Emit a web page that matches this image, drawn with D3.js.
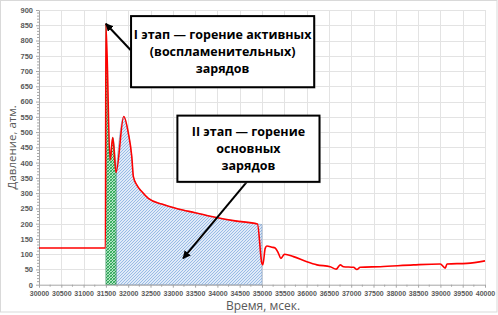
<!DOCTYPE html>
<html><head><meta charset="utf-8">
<script src="https://cdn.jsdelivr.net/npm/d3@7"></script>
<style>
html,body{margin:0;padding:0;background:#fff;}
svg{display:block;}
</style>
</head><body>
<svg id="chart" width="498" height="315"></svg>
<script>
// ---- data ----
const times = [30000,31490,31500,31593,31654,31728,31900,32004,32080,32116,32192,32304,32452,32753,33125,33500,33949,34398,34898,34997,35019,35071,35109,35221,35295,35369,35423,35468,35508,35706,36006,36231,36529,36664,36754,36828,37052,37128,37202,37651,38398,38997,39109,39148,39596,40000];
const pressure = [120,120,855,408,482,368,551,496,420,354,327,305,283,264,248,236,221,209,199,70,65,119,127,123,120,103,86,94,100,92,75,65,59,51,65,59,57,50,57,59,65,68,54,68,70,78];
const stage1Range = [31500, 31728];
const stage2Range = [31728, 35000];
const stage2End = 197;
const xTickValues = d3.range(30000, 40001, 500);
const yTickValues = d3.range(0, 901, 50);
const xTitle = "Время, мсек.";
const yTitle = "Давление, атм.";
const note1Lines = ["I этап — горение активных", "(воспламенительных)", "зарядов"];
const note2Lines = ["II этап — горение", "основных", "зарядов"];
// annotation anchors in data units
const note1Box = {x0: 32064, x1: 36170, y0: 880, y1: 647};
const note2Box = {x0: 33103, x1: 36289, y0: 554, y1: 337};
const arrow1 = {from: [32053, 769], to: [31500, 855]};
const arrow2 = {from: [34660, 337], to: [33231, 86]};

// ---- layout ----
const svg = d3.select("#chart");
const m = {left: 39, right: 485, top: 10, bottom: 284.7};
const x = d3.scaleLinear().domain([30000, 40000]).range([m.left, m.right]);
const y = d3.scaleLinear().domain([0, 900]).range([m.bottom, m.top]);

const defs = svg.append("defs");
const pg = defs.append("pattern").attr("id","hatchGreen").attr("patternUnits","userSpaceOnUse")
  .attr("width",3).attr("height",3);
pg.append("rect").attr("width",3).attr("height",3).attr("fill","#b5e8c6");
pg.append("path").attr("d","M-1,1 l2,-2 M0,3 l3,-3 M2,4 l2,-2").attr("stroke","#1f9e4b").attr("stroke-width",0.9);
pg.append("path").attr("d","M-1,2 l2,2 M0,0 l3,3 M2,-1 l2,2").attr("stroke","#1f9e4b").attr("stroke-width",0.6);
const pb = defs.append("pattern").attr("id","hatchBlue").attr("patternUnits","userSpaceOnUse")
  .attr("width",3).attr("height",3);
pb.append("rect").attr("width",3).attr("height",3).attr("fill","#dfeaf8");
pb.append("path").attr("d","M-1,1 l2,-2 M0,3 l3,-3 M2,4 l2,-2").attr("stroke","#86aee0").attr("stroke-width",0.8);
const mk = defs.append("marker").attr("id","arrowHead").attr("viewBox","0 0 10 10")
  .attr("refX",9).attr("refY",5).attr("markerWidth",4).attr("markerHeight",4)
  .attr("orient","auto-start-reverse").attr("markerUnits","strokeWidth");
mk.append("path").attr("d","M0,0 L10,5 L0,10 z").attr("fill","#000");

// outer border
svg.append("rect").attr("x",0.5).attr("y",0.5).attr("width",496.5).attr("height",311.5)
  .attr("fill","#fff").attr("stroke","#d9d9d9").attr("stroke-width",1);

// gridlines
const grid = svg.append("g").attr("stroke","#e3e3e3").attr("stroke-width",1);
grid.selectAll(".gx").data(xTickValues.slice(1)).enter().append("line")
  .attr("x1",d=>Math.round(x(d))+0.5).attr("x2",d=>Math.round(x(d))+0.5).attr("y1",m.top).attr("y2",m.bottom);
grid.selectAll(".gy").data(yTickValues.slice(1)).enter().append("line")
  .attr("y1",d=>Math.round(y(d))+0.5).attr("y2",d=>Math.round(y(d))+0.5).attr("x1",m.left).attr("x2",m.right);

// data
const pts = times.map((t,i)=>[t, pressure[i]]);
const curve = d3.curveMonotoneX;
const lineGen = d3.line().x(d=>x(d[0])).y(d=>y(d[1])).curve(curve);
const areaGen = d3.area().x(d=>x(d[0])).y0(y(0)).y1(d=>y(d[1])).curve(curve);

const s1 = pts.filter(d=>d[0]>=stage1Range[0] && d[0]<=stage1Range[1]);
const s2 = pts.filter(d=>d[0]>=stage2Range[0] && d[0]<stage2Range[1] && d[1]>150);
s2.push([stage2Range[1], stage2End]);

svg.append("path").datum(s2).attr("d",areaGen).attr("fill","url(#hatchBlue)")
  .attr("stroke","#7f9cc0").attr("stroke-width",0.6);
svg.append("path").datum(s1).attr("d",areaGen).attr("fill","url(#hatchGreen)")
  .attr("stroke","#2e8b57").attr("stroke-width",0.6);

// axes
const axisColor = "#a6a6a6";
const labelColor = "#595959";
const xAxis = d3.axisBottom(x).tickValues(xTickValues).tickSize(3).tickSizeOuter(0).tickFormat(d3.format("d"));
const gx = svg.append("g").attr("transform",`translate(0,${m.bottom})`).call(xAxis);
gx.selectAll(".tick line").attr("stroke",axisColor);
gx.select(".domain").attr("stroke",axisColor);
gx.selectAll("text").attr("fill",labelColor).attr("font-family","Liberation Sans, Arial, sans-serif")
  .attr("font-size","7px").attr("font-weight","bold").attr("dy","0.8em");
const xMinor = d3.range(30250, 40000, 500);
svg.append("g").selectAll("line").data(xMinor).enter().append("line")
  .attr("x1",d=>x(d)).attr("x2",d=>x(d)).attr("y1",m.bottom).attr("y2",m.bottom+2).attr("stroke",axisColor);

const yAxis = d3.axisLeft(y).tickValues(yTickValues).tickSize(3).tickSizeOuter(0);
const gy = svg.append("g").attr("transform",`translate(${m.left},0)`).call(yAxis);
gy.selectAll(".tick line").attr("stroke",axisColor);
gy.select(".domain").attr("stroke",axisColor);
gy.selectAll("text").attr("fill",labelColor).attr("font-family","Liberation Sans, Arial, sans-serif")
  .attr("font-size","7.5px").attr("font-weight","bold").attr("x",-6);
const yMinor = d3.range(0, 901, 10).filter(d=>d%50!==0);
svg.append("g").selectAll("line").data(yMinor).enter().append("line")
  .attr("x1",m.left-2).attr("x2",m.left).attr("y1",d=>y(d)).attr("y2",d=>y(d)).attr("stroke",axisColor);

// line
svg.append("path").datum(pts).attr("d",lineGen).attr("fill","none").attr("stroke","#ff0000").attr("stroke-width",1.6);

// titles
svg.append("text").attr("x",263).attr("y",310).attr("text-anchor","middle")
  .attr("fill",labelColor).attr("font-family","Open Sans, sans-serif").attr("font-size","12px").text(xTitle);
svg.append("text").attr("transform",`translate(16,${(m.top+m.bottom)/2}) rotate(-90)`).attr("text-anchor","middle")
  .attr("fill",labelColor).attr("font-family","Open Sans, sans-serif").attr("font-size","11.5px").text(yTitle);

// annotations
function note(box, lines){
  const x0=x(box.x0), x1=x(box.x1), y0=y(box.y0), y1=y(box.y1);
  svg.append("rect").attr("x",x0+1.5).attr("y",y0+1.5).attr("width",x1-x0).attr("height",y1-y0).attr("fill","#bfbfbf").attr("opacity",0.5);
  svg.append("rect").attr("x",x0).attr("y",y0).attr("width",x1-x0).attr("height",y1-y0)
    .attr("fill","#fff").attr("stroke","#000").attr("stroke-width",2);
  const cx=(x0+x1)/2, cy=(y0+y1)/2, lh=17;
  lines.forEach((t,i)=>{
    svg.append("text").attr("x",cx).attr("y",cy+(i-(lines.length-1)/2)*lh).attr("dy","0.35em")
      .attr("text-anchor","middle").attr("font-family","Open Sans, sans-serif").attr("font-weight","bold")
      .attr("font-size","12.5px").attr("fill","#000").text(t);
  });
}
function arrow(a){
  svg.append("line").attr("x1",x(a.from[0])).attr("y1",y(a.from[1])).attr("x2",x(a.to[0])).attr("y2",y(a.to[1]))
    .attr("stroke","#000").attr("stroke-width",2).attr("marker-end","url(#arrowHead)");
}
arrow(arrow1);
arrow(arrow2);
note(note1Box, note1Lines);
note(note2Box, note2Lines);
</script>
</body></html>
